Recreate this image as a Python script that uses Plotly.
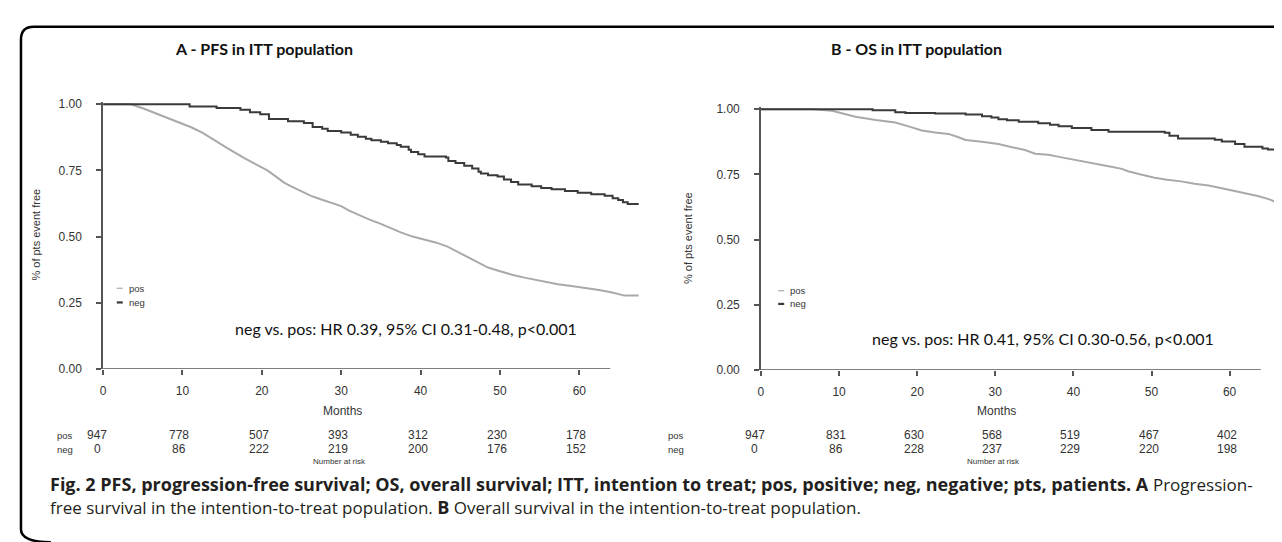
import plotly.graph_objects as go

W, H = 1282, 542

# ---------------- data ----------------
month_ticks = [0, 10, 20, 30, 40, 50, 60]
surv_ticks = [0.0, 0.25, 0.5, 0.75, 1.0]
surv_tick_labels = ["0.00", "0.25", "0.50", "0.75", "1.00"]

pfs_neg_t = [0, 10.9, 14.3, 17.3, 18.5, 19.8, 20.9, 23.3, 25.3, 26.4, 27.6, 28.3, 30.0, 31.2,
             32.1, 33.1, 33.8, 35.0, 35.9, 37.0, 37.5, 38.5, 38.8, 39.7, 40.5, 43.2, 43.5, 44.4,
             45.5, 46.5, 47.3, 47.6, 48.5, 49.7, 50.5, 51.4, 52.3, 54.0, 55.2, 56.5, 58.2, 59.8,
             61.5, 63.2, 64.2, 64.9, 65.5, 66.1, 67.5]
pfs_neg_s = [1.0, 0.991, 0.986, 0.979, 0.970, 0.962, 0.944, 0.936, 0.929, 0.914, 0.907, 0.899,
             0.893, 0.885, 0.877, 0.870, 0.864, 0.858, 0.853, 0.846, 0.839, 0.828, 0.820, 0.811,
             0.803, 0.799, 0.786, 0.778, 0.768, 0.757, 0.745, 0.738, 0.732, 0.727, 0.716, 0.706,
             0.697, 0.690, 0.684, 0.679, 0.672, 0.666, 0.660, 0.654, 0.645, 0.638, 0.630, 0.623,
             0.623]

pfs_pos_t = [0, 3.5, 5.0, 6.9, 9.0, 11.1, 12.5, 13.6, 15.7, 17.8, 19.3, 20.7, 22.0, 22.8, 23.7,
             25.0, 26.2, 27.5, 29.1, 30.0, 31.0, 32.5, 33.5, 35.0, 36.3, 37.5, 39.0, 40.5, 42.0,
             43.4, 44.5, 46.0, 47.5, 48.5, 49.7, 51.5, 53.1, 55.0, 57.3, 59.0, 60.7, 62.5, 64.0,
             65.0, 65.7, 67.5]
pfs_pos_s = [1.0, 1.0, 0.985, 0.963, 0.938, 0.913, 0.893, 0.872, 0.833, 0.796, 0.772, 0.750,
             0.722, 0.704, 0.690, 0.671, 0.654, 0.640, 0.624, 0.615, 0.598, 0.578, 0.565, 0.548,
             0.530, 0.516, 0.500, 0.489, 0.477, 0.462, 0.445, 0.420, 0.398, 0.383, 0.372, 0.356,
             0.345, 0.333, 0.320, 0.313, 0.307, 0.298, 0.290, 0.283, 0.277, 0.277]

os_neg_t = [0, 14.3, 17.2, 18.5, 22.3, 26.2, 28.3, 29.5, 30.4, 31.5, 33.0, 35.5, 37.0, 38.1,
            39.8, 42.3, 44.5, 51.7, 52.3, 53.4, 58.1, 59.0, 60.7, 61.9, 64.2, 64.9, 66.5, 67.7]
os_neg_s = [1.0, 0.996, 0.988, 0.985, 0.983, 0.979, 0.973, 0.968, 0.961, 0.957, 0.952, 0.946,
            0.940, 0.934, 0.928, 0.920, 0.913, 0.909, 0.898, 0.887, 0.883, 0.876, 0.866, 0.856,
            0.849, 0.845, 0.840, 0.840]

os_pos_t = [0, 6.2, 9.1, 10.5, 12.1, 14.7, 17.2, 18.9, 20.6, 22.3, 24.0, 25.2, 26.2, 28.3, 30.4,
            32.0, 33.8, 35.1, 36.8, 38.5, 40.2, 41.8, 43.6, 45.0, 46.2, 47.0, 48.5, 50.4, 52.0,
            53.8, 55.5, 57.3, 59.0, 60.7, 62.2, 63.6, 65.0, 65.8, 67.7]
os_pos_s = [1.0, 1.0, 0.994, 0.984, 0.971, 0.958, 0.949, 0.934, 0.918, 0.910, 0.905, 0.893,
            0.882, 0.875, 0.866, 0.855, 0.843, 0.829, 0.825, 0.815, 0.806, 0.797, 0.787, 0.778,
            0.771, 0.762, 0.750, 0.737, 0.729, 0.723, 0.714, 0.707, 0.697, 0.687, 0.678, 0.667,
            0.655, 0.645, 0.645]

pfs_risk_pos = [947, 778, 507, 393, 312, 230, 178]
pfs_risk_neg = [0, 86, 222, 219, 200, 176, 152]
os_risk_pos = [947, 831, 630, 568, 519, 467, 402]
os_risk_neg = [0, 86, 228, 237, 229, 220, 198]

titles = ["A - PFS in ITT population", "B - OS in ITT population"]
hr_texts = ["neg vs. pos: HR 0.39, 95% CI 0.31-0.48, p<0.001",
            "neg vs. pos: HR 0.41, 95% CI 0.30-0.56, p<0.001"]
group_names = ["pos", "neg"]

REG = '<span style="font-size:17px">'
caption1 = ("<b>Fig. 2 PFS, progression-free survival; OS, overall survival; ITT, intention to treat; "
            "pos, positive; neg, negative; pts, patients. A</b> " + REG + "Progression-</span>")
caption2 = (REG + "free survival in the intention-to-treat population. </span><b>B</b>" + REG +
            " Overall survival in the intention-to-treat population.</span>")

# ---------------- styling / layout helpers ----------------
POS_COL = "#a9a9a9"
NEG_COL = "#3a3a3a"
AX_COL = "#555555"
TXT_COL = "#333333"
TICK_FONT = dict(family="Liberation Sans, Arial", size=12, color=TXT_COL)


def px(x):
    return x / W


def py(y):
    return 1 - y / H


# panel geometry (pixels): x of month 0, right edge, y of 0.0 and 1.0
panels = [
    dict(x0=92.3, x1=629.3, xmax=67.5, yb=364.0, yt=93.3, axis_end=63.9,
         title_x=254, hr_x=396, hr_y=323, leg_x=106, leg_y=(281.5, 296),
         ylab_x=25, risk_lab_x=54),
    dict(x0=751.7, x1=1282.0, xmax=67.73, yb=365.0, yt=98.3, axis_end=64.0,
         title_x=908, hr_x=1034, hr_y=333, leg_x=769, leg_y=(284, 297.5),
         ylab_x=678, risk_lab_x=667),
]
YPAD = 0.008

curves = [
    (pfs_pos_t, pfs_pos_s, pfs_neg_t, pfs_neg_s, pfs_risk_pos, pfs_risk_neg),
    (os_pos_t, os_pos_s, os_neg_t, os_neg_s, os_risk_pos, os_risk_neg),
]

fig = go.Figure()
shapes = []
annotations = []

for i, (p, c) in enumerate(zip(panels, curves)):
    xa = "x" if i == 0 else "x2"
    ya = "y" if i == 0 else "y2"
    pos_t, pos_s, neg_t, neg_s, r_pos, r_neg = c
    fig.add_trace(go.Scatter(x=pos_t, y=pos_s, mode="lines", xaxis=xa, yaxis=ya,
                             line=dict(color=POS_COL, width=2), showlegend=False,
                             name=group_names[0]))
    fig.add_trace(go.Scatter(x=neg_t, y=neg_s, mode="lines", xaxis=xa, yaxis=ya,
                             line=dict(color=NEG_COL, width=2, shape="hv"), showlegend=False,
                             name=group_names[1]))

    ppu = p["yb"] - p["yt"]
    top_px = p["yt"] - YPAD * ppu
    xdom = [px(p["x0"]), min(1.0, px(p["x1"]))]
    ydom = [py(p["yb"]), py(top_px)]
    axis_common = dict(showgrid=False, zeroline=False, ticks="outside", ticklen=5,
                       tickwidth=1.5, tickcolor=AX_COL, tickfont=TICK_FONT)
    xkey = "xaxis" if i == 0 else "xaxis2"
    ykey = "yaxis" if i == 0 else "yaxis2"
    fig.update_layout(**{
        xkey: dict(domain=xdom, range=[0, p["xmax"]], tickvals=month_ticks,
                   showline=False, anchor=ya, ticklabelstandoff=6, **axis_common),
        ykey: dict(domain=ydom, range=[0, 1 + YPAD], tickvals=surv_ticks,
                   ticktext=surv_tick_labels, showline=True, linecolor=AX_COL,
                   linewidth=1.5, anchor=xa, ticklabelstandoff=12, **axis_common),
    })
    # x axis line (ends before the curves do)
    shapes.append(dict(type="line", xref=xa, yref=ya, x0=0, x1=p["axis_end"], y0=0, y1=0,
                       line=dict(color=AX_COL, width=1.5)))

    # panel title
    annotations.append(dict(x=px(p["title_x"]), y=py(36), xref="paper", yref="paper",
                            text="<b>" + titles[i] + "</b>", showarrow=False,
                            xanchor="center", yanchor="middle",
                            font=dict(family="Lato", size=16, color="#111111")))
    # HR text
    annotations.append(dict(x=px(p["hr_x"]), y=py(p["hr_y"]), xref="paper", yref="paper",
                            text=hr_texts[i], showarrow=False, xanchor="center",
                            yanchor="middle",
                            font=dict(family="Lato", size=16, color="#111111")))
    # y axis title
    annotations.append(dict(x=px(p["ylab_x"]), y=py((p["yb"] + p["yt"]) / 2 - 2),
                            xref="paper", yref="paper", text="% of pts event free",
                            textangle=-90, showarrow=False, xanchor="center",
                            yanchor="middle",
                            font=dict(family="Liberation Sans, Arial", size=11,
                                      color=TXT_COL)))
    # x axis title
    annotations.append(dict(x=30, y=py(407), xref=xa, yref="paper", text="Months",
                            showarrow=False, xanchor="center", yanchor="middle", xshift=1,
                            font=dict(family="Liberation Sans, Arial", size=12,
                                      color=TXT_COL)))
    # legend
    for k, (name, col, lw) in enumerate([(group_names[0], POS_COL, 1.2),
                                         (group_names[1], NEG_COL, 2.2)]):
        ly = p["leg_y"][k]
        shapes.append(dict(type="line", xref="paper", yref="paper",
                           x0=px(p["leg_x"]), x1=px(p["leg_x"] + 6), y0=py(ly), y1=py(ly),
                           line=dict(color=col, width=lw)))
        annotations.append(dict(x=px(p["leg_x"] + 10), y=py(ly), xref="paper", yref="paper",
                                text=name, showarrow=False, xanchor="left",
                                yanchor="middle",
                                font=dict(family="Liberation Sans, Arial", size=9.5,
                                          color=TXT_COL)))
    # risk table
    for row_y, label, vals in [(432, group_names[0], r_pos), (446.3, group_names[1], r_neg)]:
        annotations.append(dict(x=px(p["risk_lab_x"]), y=py(row_y), xref="paper",
                                yref="paper", text=label, showarrow=False,
                                xanchor="center", yanchor="middle",
                                font=dict(family="Liberation Sans, Arial", size=9.5,
                                          color=TXT_COL)))
        for m, v in zip(month_ticks, vals):
            annotations.append(dict(x=m, y=py(row_y), xref=xa, yref="paper", text=str(v),
                                    showarrow=False, xanchor="center", yanchor="middle",
                                    xshift=-3 if m > 0 else -6,
                                    font=dict(family="Liberation Sans, Arial", size=12,
                                              color=TXT_COL)))
    annotations.append(dict(x=30, y=py(458.8), xref=xa, yref="paper", text="Number at risk",
                            showarrow=False, xanchor="center", yanchor="middle", xshift=-2,
                            font=dict(family="Liberation Sans, Arial", size=8,
                                      color=TXT_COL)))

# caption
for txt, yy in [(caption1, 482), (caption2, 505)]:
    annotations.append(dict(x=px(37), y=py(yy), xref="paper", yref="paper", text=txt,
                            showarrow=False, xanchor="left", yanchor="middle",
                            font=dict(family="Open Sans", size=18, color="#231f20")))


def P(x, y):
    return f"{px(x):.5f},{py(y):.5f}"


# frame with rounded corners
frame_path = ("M " + P(40, 541.2) + " Q " + P(10, 541.2) + " " + P(10, 528) +
              " L " + P(10, 27) + " Q " + P(10, 14) + " " + P(23, 14) +
              " L " + P(1300, 14))
shapes.append(dict(type="path", xref="paper", yref="paper", path=frame_path,
                   line=dict(color="#000000", width=2.5)))

fig.update_layout(width=W, height=H, margin=dict(l=0, r=0, t=0, b=0),
                  paper_bgcolor="white", plot_bgcolor="white",
                  shapes=shapes, annotations=annotations, showlegend=False)

fig.write_html("out.html")
